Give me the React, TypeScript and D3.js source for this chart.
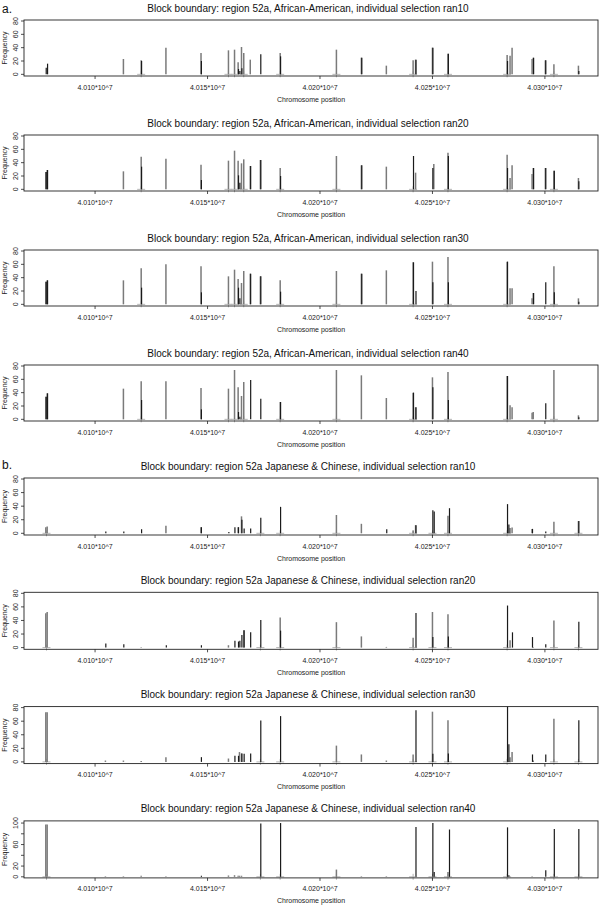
import React from "react";
import * as d3 from "d3";

// SNP positions (chromosome coordinates)
const positions = [
  4.00781e7, 4.00787e7, 4.01046e7, 4.01126e7, 4.01205e7, 4.01315e7, 4.01471e7, 4.01593e7,
  4.0162e7, 4.01636e7, 4.01642e7, 4.01651e7, 4.01661e7, 4.0169e7, 4.01735e7, 4.01823e7,
  4.02073e7, 4.02184e7, 4.02295e7, 4.02414e7, 4.02425e7, 4.025e7, 4.02506e7, 4.02569e7,
  4.02574e7, 4.02832e7, 4.02838e7, 4.02845e7, 4.02854e7, 4.02943e7, 4.02948e7, 4.03002e7,
  4.0304e7, 4.03149e7,
];

const panelTitles = [
  "Block boundary: region 52a, African-American, individual selection ran10",
  "Block boundary: region 52a, African-American, individual selection ran20",
  "Block boundary: region 52a, African-American, individual selection ran30",
  "Block boundary: region 52a, African-American, individual selection ran40",
  "Block boundary: region 52a Japanese & Chinese, individual selection ran10",
  "Block boundary: region 52a Japanese & Chinese, individual selection ran20",
  "Block boundary: region 52a Japanese & Chinese, individual selection ran30",
  "Block boundary: region 52a Japanese & Chinese, individual selection ran40",
];

// gray series heights per panel (aligned with positions)
const gray1 = [0,0,0,23,21,40,32,36,37,18,0,41,32,22,0,32,37,25,13,21,22,40,0,31,0,29,0,28,40,23,25,21,15,13];
const black1 = [10,16,0,0,20,0,20,0,0,8,5,9,0,0,30,27,0,25,0,0,22,40,0,31,0,20,0,0,0,0,25,21,0,5];
const gray2 = [26,29,0,27,49,46,37,43,58,43,0,39,45,35,44,32,50,36,34,0,25,0,38,55,0,52,0,17,36,23,32,32,28,17];
const black2 = [26,29,0,0,34,0,14,0,0,21,10,0,0,35,44,20,0,36,0,50,0,32,0,50,0,32,0,0,0,0,32,32,28,12];
const gray3 = [34,36,0,36,54,60,57,42,52,38,0,32,50,46,42,36,50,46,51,63,0,64,0,71,0,64,0,24,24,9,17,0,57,9];
const black3 = [34,36,0,0,25,0,18,0,0,25,9,0,0,46,42,19,0,46,0,63,20,33,0,33,0,64,0,0,0,0,17,33,18,4];
const gray4 = [34,39,0,46,57,57,47,46,74,48,0,35,56,0,0,26,74,66,32,40,18,63,0,71,0,65,0,21,18,10,11,0,74,6];
const black4 = [34,39,0,0,29,0,15,0,0,11,4,0,0,59,31,26,0,0,0,40,18,48,0,29,0,65,0,0,0,0,0,24,0,3];
const gray5 = [9,10,0,0,0,11,9,0,0,9,0,25,0,0,0,0,27,14,0,4,12,0,0,26,0,0,0,8,8.5,6.5,0,0,17,18];
const black5 = [0,0,2.5,2.5,6,0,9,2,9,9,0,20,7,7,23,39,0,0,6,0,12,34,32,0,37,43,13,0,0,6.5,0,2.5,0,18];
const gray6 = [50.5,52.5,0,0,1,0,0,3.5,0,0,0,0,25.5,0,0,44.5,37.5,16.5,1,14.5,0,52.5,0,49,0,0,0,11,0,0,1,0,40,0];
const black6 = [0,0,6,5,0,3.5,3.5,0,10,9,10,18.5,25.5,22.5,40.5,25,0,0,0,0,51,15.5,0,16.5,0,62,0,0,22.5,15.5,0,5,0,38];
const gray7 = [73,73,2,2,1.5,7,0,5,0,0,14.5,12.5,0,0,0,0,24,11,2,11,0,74,0,61.5,0,0,0,7,14.5,0,2,0,63.5,0];
const black7 = [0,0,0,0,0,0,7,0,9,9,0,12.5,12,12.5,61,67.5,0,0,0,0,76,12,0,12.5,0,81.5,26,0,0,11,0,11,0,61.5];
const gray8 = [97.5,97.5,1,1,2,1,0,2.5,3,2,2,2,0,0,0,0,13.5,1,1,0,0,0,0,9,0,0,0,0,0,1,0,0,0,0];
const black8 = [0,0,0,0,0,0,2,0,0,0,0,0,0,0,99,100,0,0,0,0,92.5,100,9,0,88,92,3,0,0,0,0,12,89,89];

const grayAll = [gray1, gray2, gray3, gray4, gray5, gray6, gray7, gray8];
const blackAll = [black1, black2, black3, black4, black5, black6, black7, black8];

// gray "+" boundary markers
const markersAA = [4.01205e7, 4.01593e7, 4.0162e7, 4.01661e7, 4.01823e7, 4.02073e7, 4.02414e7, 4.02569e7, 4.02832e7, 4.0304e7];
const markersJC = [4.00784e7, 4.01735e7, 4.01823e7, 4.02073e7, 4.02414e7, 4.025e7, 4.02569e7, 4.02832e7, 4.0304e7, 4.03149e7];

const xTicks = [4.01e7, 4.015e7, 4.02e7, 4.025e7, 4.03e7];
const xTickLabels = ["4.010*10^7", "4.015*10^7", "4.020*10^7", "4.025*10^7", "4.030*10^7"];
const yTicksA = [0, 20, 40, 60, 80];
const yLabelsA = ["0", "20", "40", "60", "80"];
const yTicksB = [0, 20, 40, 60, 80, 100];
const yLabelsB = ["0", "20", "", "60", "", "100"];

const FONT = "'Liberation Sans', Arial, Helvetica, sans-serif";

function Panel({ idx }: { idx: number }) {
  const isA = idx < 4;
  const top = isA ? 20 + 115 * idx : 478 + 114.3 * (idx - 4);
  const h = isA ? 56 : 57;
  const bottom = top + h;
  const left = 24;
  const right = 598;
  const x = d3.scaleLinear().domain([4.00684e7, 4.03236e7]).range([left, right]);
  const yDom = idx === 7 ? [-2, 104] : [-2.5, 81.5];
  const y = d3.scaleLinear().domain(yDom).range([bottom, top]);
  const yTicks = idx === 7 ? yTicksB : yTicksA;
  const yLabels = idx === 7 ? yLabelsB : yLabelsA;
  const markers = isA ? markersAA : markersJC;
  const g = grayAll[idx];
  const b = blackAll[idx];
  const cx = (left + right) / 2;
  return (
    <g>
      <text x={cx - 3} y={top - 8.5} textAnchor="middle" fontSize={10} fontFamily={FONT} fill="#111">
        {panelTitles[idx]}
      </text>
      {markers.map((m, i) => (
        <g key={"m" + i} stroke="#b5b5b5" strokeWidth={1}>
          <line x1={x(m) - 4} x2={x(m) + 4} y1={y(0)} y2={y(0)} />
          <line x1={x(m)} x2={x(m)} y1={y(0) - 3} y2={y(0) + 3} />
        </g>
      ))}
      {positions.map((p, i) =>
        g[i] > 0 ? (
          <line key={"g" + i} x1={x(p)} x2={x(p)} y1={y(0)} y2={Math.max(top, y(g[i]))} stroke="#7a7a7a" strokeWidth={1.5} />
        ) : null
      )}
      {positions.map((p, i) =>
        b[i] > 0 ? (
          <line key={"b" + i} x1={x(p) + 0.4} x2={x(p) + 0.4} y1={y(0)} y2={Math.max(top, y(b[i]))} stroke="#1a1a1a" strokeWidth={1.2} />
        ) : null
      )}
      <rect x={left} y={top} width={right - left} height={h} fill="none" stroke="#222" strokeWidth={0.9} />
      {xTicks.map((t, i) => (
        <g key={"xt" + i}>
          <line x1={x(t)} x2={x(t)} y1={bottom} y2={bottom + 3} stroke="#222" strokeWidth={0.8} />
          <text x={x(t)} y={bottom + 13.5} textAnchor="middle" fontSize={7} fontFamily={FONT} fill="#222">
            {xTickLabels[i]}
          </text>
        </g>
      ))}
      {yTicks.map((t, i) => (
        <g key={"yt" + i}>
          <line x1={left - 3} x2={left} y1={y(t)} y2={y(t)} stroke="#222" strokeWidth={0.8} />
          {yLabels[i] ? (
            <text
              transform={`translate(${left - 6},${y(t)}) rotate(-90)`}
              textAnchor="middle"
              fontSize={7}
              fontFamily={FONT}
              fill="#222"
            >
              {yLabels[i]}
            </text>
          ) : null}
        </g>
      ))}
      <text
        transform={`translate(7,${(top + bottom) / 2}) rotate(-90)`}
        textAnchor="middle"
        fontSize={7}
        fontFamily={FONT}
        fill="#222"
      >
        Frequency
      </text>
      <text x={cx} y={bottom + 25.5} textAnchor="middle" fontSize={7} fontFamily={FONT} fill="#222">
        Chromosome position
      </text>
    </g>
  );
}

export default function App() {
  return (
    <svg width={600} height={907} style={{ position: "absolute", left: 0, top: 0, background: "#fff" }}>
      <rect x={0} y={0} width={600} height={907} fill="#fff" />
      <text x={2} y={13} fontSize={12} fontFamily={FONT} fill="#111">a.</text>
      <text x={2} y={469} fontSize={12} fontFamily={FONT} fill="#111">b.</text>
      {[0, 1, 2, 3, 4, 5, 6, 7].map((i) => (
        <Panel key={i} idx={i} />
      ))}
    </svg>
  );
}
